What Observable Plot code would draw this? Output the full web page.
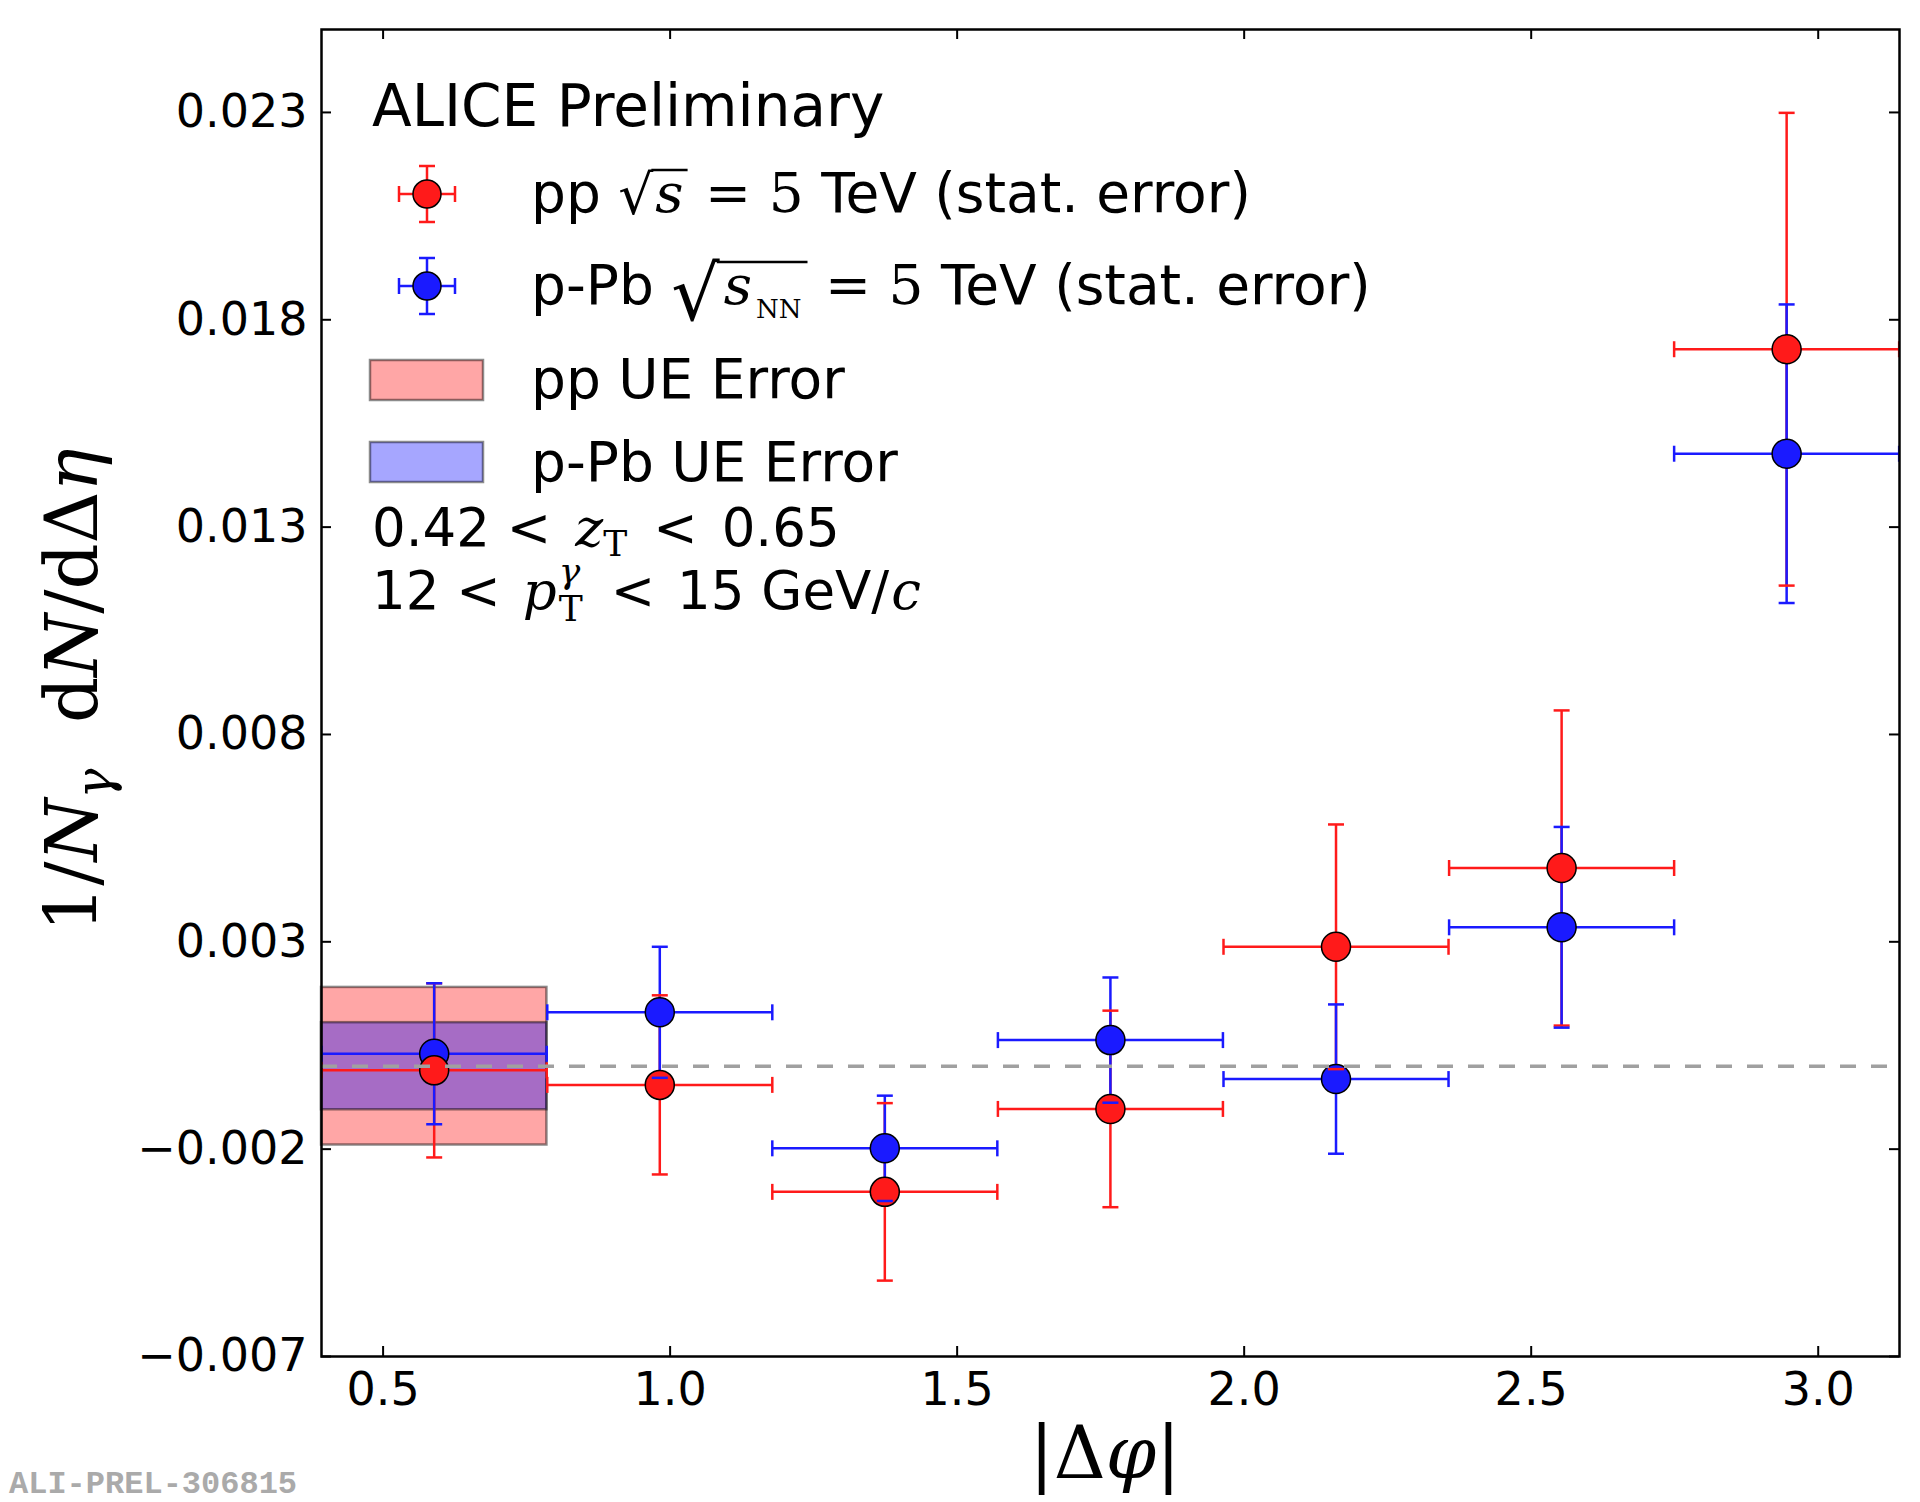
<!DOCTYPE html>
<html>
<head>
<meta charset="utf-8">
<script src="https://cdn.jsdelivr.net/npm/d3@7"></script>
<script src="https://cdn.jsdelivr.net/npm/@observablehq/plot@0.6"></script>
<style>
  html, body { margin: 0; padding: 0; background: white; }
  svg text { white-space: pre; }
</style>
</head>
<body>
<script>
// ---------------- data ----------------
const binCenters = [0.589, 0.982, 1.374, 1.767, 2.160, 2.553, 2.945];
const binHalfWidth = 0.196;
const ppValues   = [-0.0001, -0.00045, -0.00303, -0.00103, 0.00288, 0.00478, 0.01729];
const ppErrors   = [0.0021, 0.00216, 0.00214, 0.00237, 0.00295, 0.0038, 0.0057];
const pPbValues  = [0.0003, 0.0013, -0.00198, 0.00063, -0.00031, 0.00335, 0.01477];
const pPbErrors  = [0.0017, 0.00158, 0.00127, 0.00151, 0.0018, 0.00242, 0.0036];
const ueRange    = [0.3927, 0.7854];
const ppUE       = 0.0019;
const pPbUE      = 0.00105;
const xTicks = [0.5, 1.0, 1.5, 2.0, 2.5, 3.0];
const yTicks = [-0.007, -0.002, 0.003, 0.008, 0.013, 0.018, 0.023];
const xDomain = [0.3927, 3.1416];
const yDomain = [-0.007, 0.025];

const RED = "#ff1a1a", BLUE = "#1a1aff";
const SANS = "DejaVu Sans", SERIF = "DejaVu Serif";

const pp  = binCenters.map((x, i) => ({x, y: ppValues[i],  e: ppErrors[i]}));
const pPb = binCenters.map((x, i) => ({x, y: pPbValues[i], e: pPbErrors[i]}));

const W = 1920, H = 1502, mL = 321, mR = 21, mT = 29, mB = 146;
const pW = W - mL - mR, pH = H - mT - mB;

const capH = {draw(ctx, size) { const r = Math.sqrt(size / Math.PI); ctx.moveTo(-r, 0); ctx.lineTo(r, 0); }};
const capV = {draw(ctx, size) { const r = Math.sqrt(size / Math.PI); ctx.moveTo(0, -r); ctx.lineTo(0, r); }};

function series(data, color) {
  return [
    Plot.ruleX(data, {x: "x", y1: d => d.y - d.e, y2: d => d.y + d.e, stroke: color, strokeWidth: 2.5, clip: true}),
    Plot.ruleY(data, {y: "y", x1: d => d.x - binHalfWidth, x2: d => d.x + binHalfWidth, stroke: color, strokeWidth: 2.5, clip: true}),
  ];
}
function caps(data, color) {
  return [
    Plot.dot(data, {x: "x", y: d => d.y + d.e, symbol: capH, r: 8, stroke: color, strokeWidth: 2.5, fill: "none", clip: true}),
    Plot.dot(data, {x: "x", y: d => d.y - d.e, symbol: capH, r: 8, stroke: color, strokeWidth: 2.5, fill: "none", clip: true}),
    Plot.dot(data, {x: d => d.x - binHalfWidth, y: "y", symbol: capV, r: 8, stroke: color, strokeWidth: 2.5, fill: "none", clip: true}),
    Plot.dot(data, {x: d => d.x + binHalfWidth, y: "y", symbol: capV, r: 8, stroke: color, strokeWidth: 2.5, fill: "none", clip: true}),
  ];
}

const fmtY = d => (d < 0 ? "\u2212" : "") + Math.abs(d).toFixed(3);

const chart = Plot.plot({
  width: W, height: H,
  marginLeft: mL, marginRight: mR, marginTop: mT, marginBottom: mB,
  style: {fontFamily: SANS, fontSize: "46px", color: "black", background: "white"},
  x: {domain: xDomain},
  y: {domain: yDomain},
  marks: [
    Plot.rect([{x1: ueRange[0], x2: ueRange[1], y1: -ppUE, y2: ppUE}], {x1: "x1", x2: "x2", y1: "y1", y2: "y2", fill: "#ff0000", fillOpacity: 0.35, stroke: "#000", strokeOpacity: 0.45, strokeWidth: 2.5}),
    Plot.rect([{x1: ueRange[0], x2: ueRange[1], y1: -pPbUE, y2: pPbUE}], {x1: "x1", x2: "x2", y1: "y1", y2: "y2", fill: "#0000ff", fillOpacity: 0.35, stroke: "#000", strokeOpacity: 0.45, strokeWidth: 2.5}),
    ...series(pp, RED),
    ...series(pPb, BLUE),
    Plot.dot(pPb, {x: "x", y: "y", r: 14.5, fill: BLUE, stroke: "black", strokeWidth: 1.5}),
    Plot.dot(pp, {x: "x", y: "y", r: 14.5, fill: RED, stroke: "black", strokeWidth: 1.5}),
    ...caps(pp, RED),
    ...caps(pPb, BLUE),
    Plot.ruleY([0], {stroke: "#a0a0a0", strokeWidth: 3.5, strokeDasharray: "16,15"}),
    // inward ticks on all four sides
    Plot.tickX(xTicks, {x: d => d, insetTop: pH - 10, stroke: "black", strokeWidth: 2}),
    Plot.tickX(xTicks, {x: d => d, insetBottom: pH - 10, stroke: "black", strokeWidth: 2}),
    Plot.tickY(yTicks, {y: d => d, insetRight: pW - 10, stroke: "black", strokeWidth: 2}),
    Plot.tickY(yTicks, {y: d => d, insetLeft: pW - 10, stroke: "black", strokeWidth: 2}),
    Plot.axisX(xTicks, {tickSize: 0, tickPadding: 16, tickFormat: d => d.toFixed(1), label: null, fontSize: 46}),
    Plot.axisY(yTicks, {tickSize: 0, tickPadding: 14, tickFormat: fmtY, label: null, fontSize: 46}),
    Plot.frame({stroke: "black", strokeWidth: 2.5})
  ]
});
document.body.appendChild(chart);

// ---------------- rich text (legend, axis labels) ----------------
const svg = d3.select(chart);
const g = svg.append("g").attr("text-anchor", "start");

// one <text> per line; pieces laid out left to right with measured widths
function richLine(x0, y0, pieces, {fill = "black"} = {}) {
  const text = g.append("text").attr("text-anchor", "start").attr("xml:space", "preserve").attr("fill", fill);
  let cx = x0;
  for (const p of pieces) {
    cx += p.gap || 0;
    const ts = text.append("tspan")
      .attr("x", cx).attr("y", y0 + (p.dy || 0))
      .style("font-family", p.font || SANS)
      .style("font-size", (p.size || 55) + "px")
      .style("font-style", p.italic ? "italic" : "normal")
      .style("font-weight", p.weight || null)
      .text(p.t);
    p.x = cx;
    p.w = ts.node().getComputedTextLength();
    if (!p.noAdvance) cx += p.w;
  }
  return pieces;
}
function hline(x1, x2, y, w = 2.5) {
  g.append("line").attr("x1", x1).attr("x2", x2).attr("y1", y).attr("y2", y)
    .attr("stroke", "black").attr("stroke-width", w);
}

// ALICE Preliminary
richLine(372, 126, [{t: "ALICE Preliminary", size: 58}]);

// legend marker helper
function legendMarker(cx, cy, color) {
  const lg = g.append("g").attr("stroke", color).attr("stroke-width", 2.5);
  lg.append("line").attr("x1", cx).attr("x2", cx).attr("y1", cy - 28).attr("y2", cy + 28);
  lg.append("line").attr("x1", cx - 28).attr("x2", cx + 28).attr("y1", cy).attr("y2", cy);
  lg.append("line").attr("x1", cx - 8).attr("x2", cx + 8).attr("y1", cy - 28).attr("y2", cy - 28);
  lg.append("line").attr("x1", cx - 8).attr("x2", cx + 8).attr("y1", cy + 28).attr("y2", cy + 28);
  lg.append("line").attr("x1", cx - 28).attr("x2", cx - 28).attr("y1", cy - 8).attr("y2", cy + 8);
  lg.append("line").attr("x1", cx + 28).attr("x2", cx + 28).attr("y1", cy - 8).attr("y2", cy + 8);
  g.append("circle").attr("cx", cx).attr("cy", cy).attr("r", 14).attr("fill", color).attr("stroke", "black").attr("stroke-width", 1.5);
}

// Row 1: pp sqrt(s) = 5 TeV
legendMarker(427, 194, RED);
{
  const y = 212;
  const p = richLine(531, y, [
    {t: "pp "},
    {t: "\u221A", font: SERIF, dy: 2},
    {t: "s", font: SERIF, italic: true, gap: 2},
    {t: " = 5 ", font: SERIF, gap: 4},
    {t: "TeV (stat. error)"}
  ]);
  hline(p[1].x + p[1].w - 2, p[2].x + p[2].w + 4, y - 42);
}
// Row 2: p-Pb sqrt(s_NN) = 5 TeV
legendMarker(427, 286, BLUE);
{
  const y = 304;
  const p = richLine(531, y, [
    {t: "p-Pb "},
    {t: "\u221A", font: SERIF, size: 76, dy: 16},
    {t: "s", font: SERIF, italic: true, gap: 4},
    {t: "NN", font: SERIF, size: 26, dy: 14, gap: 4},
    {t: " = 5 ", font: SERIF, gap: 6},
    {t: "TeV (stat. error)"}
  ]);
  hline(p[1].x + p[1].w - 3, p[3].x + p[3].w + 6, y - 42);
}
// Row 3, 4: UE error patches
g.append("rect").attr("x", 370).attr("y", 360).attr("width", 113).attr("height", 40)
  .attr("fill", "#ff0000").attr("fill-opacity", 0.35).attr("stroke", "#000").attr("stroke-opacity", 0.45).attr("stroke-width", 2.5);
richLine(531, 398, [{t: "pp UE Error"}]);
g.append("rect").attr("x", 370).attr("y", 442).attr("width", 113).attr("height", 40)
  .attr("fill", "#0000ff").attr("fill-opacity", 0.35).attr("stroke", "#000").attr("stroke-opacity", 0.45).attr("stroke-width", 2.5);
richLine(531, 481, [{t: "p-Pb UE Error"}]);

// Row 5: 0.42 < z_T < 0.65
richLine(372, 546, [
  {t: "0.42 <", size: 53},
  {t: "z", font: SERIF, italic: true, size: 53, gap: 24},
  {t: "T", font: SERIF, size: 36, dy: 10},
  {t: "<", size: 53, gap: 26},
  {t: "0.65", size: 53, gap: 24}
]);
// Row 6: 12 < p_T^gamma < 15 GeV/c
richLine(372, 609, [
  {t: "12 <", size: 53},
  {t: "p", font: SERIF, italic: true, size: 53, gap: 22},
  {t: "\u03B3", font: SERIF, italic: true, size: 36, dy: -26, gap: 2, noAdvance: true},
  {t: "T", font: SERIF, size: 36, dy: 12},
  {t: "<", size: 53, gap: 28},
  {t: "15 GeV/", size: 53, gap: 22},
  {t: "c", font: SERIF, italic: true, size: 53, gap: 2}
]);

// Y axis label: 1/N_gamma dN/dDelta eta
{
  const t = g.append("text")
    .attr("transform", "translate(97,690) rotate(-90)")
    .attr("text-anchor", "middle")
    .attr("xml:space", "preserve")
    .style("font-family", SERIF).style("font-size", "72px").attr("fill", "black");
  t.append("tspan").text("1/");
  t.append("tspan").style("font-style", "italic").text("N");
  t.append("tspan").style("font-style", "italic").style("font-size", "50px").attr("dy", 14).text("\u03B3");
  t.append("tspan").attr("dy", -14).text("  d");
  t.append("tspan").style("font-style", "italic").text("N");
  t.append("tspan").text("/d\u0394");
  t.append("tspan").style("font-style", "italic").text("\u03B7");
}
// X axis label: |Delta phi|
{
  const t = g.append("text")
    .attr("x", (mL + W - mR) / 2 - 5).attr("y", 1478)
    .attr("text-anchor", "middle")
    .style("font-family", SERIF).style("font-size", "72px").attr("fill", "black");
  t.append("tspan").text("|\u0394");
  t.append("tspan").style("font-style", "italic").text("\u03C6");
  t.append("tspan").text("|");
}
// watermark
richLine(9, 1493, [{t: "ALI-PREL-306815", font: "Liberation Mono", size: 32, weight: "bold"}], {fill: "#aaaaaa"});
</script>
</body>
</html>
